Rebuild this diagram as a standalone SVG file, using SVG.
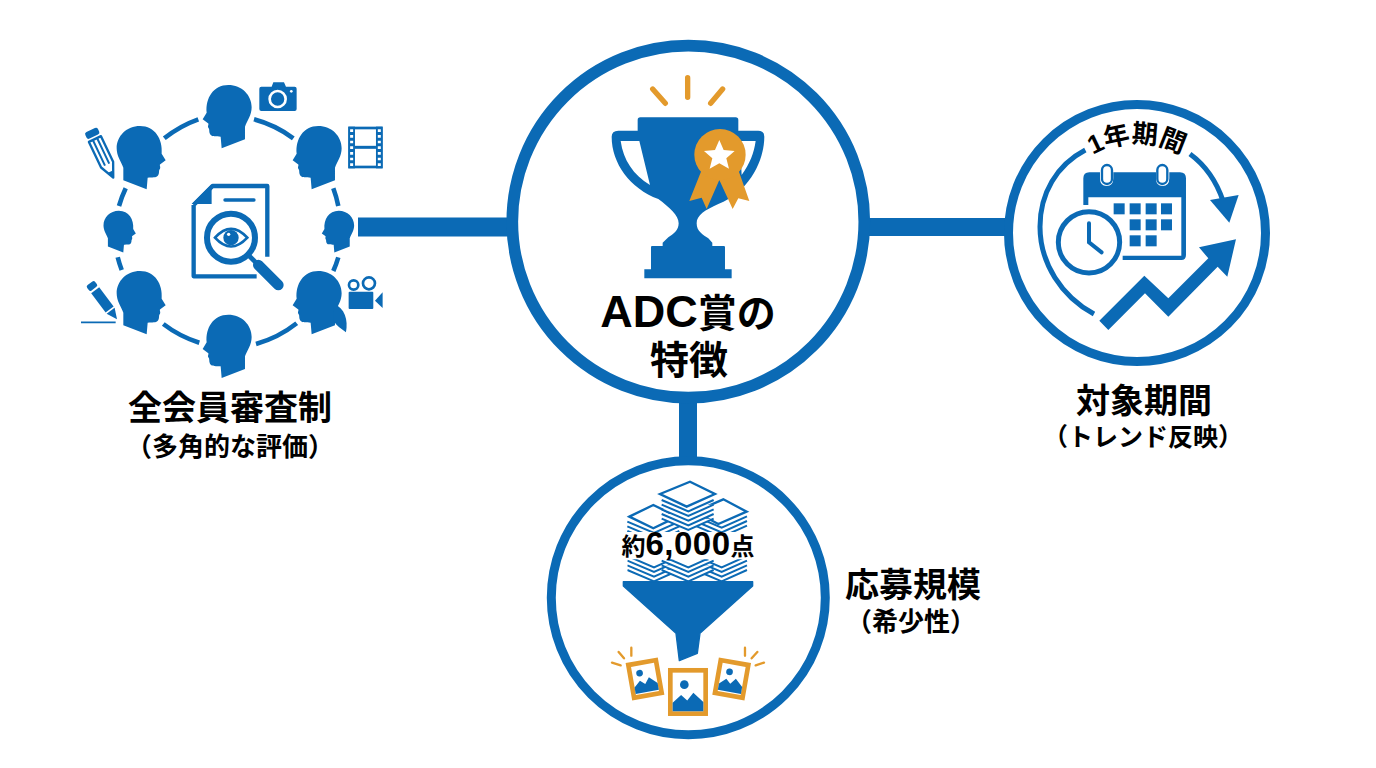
<svg xmlns="http://www.w3.org/2000/svg" xmlns:xlink="http://www.w3.org/1999/xlink" width="1376" height="768" viewBox="0 0 1376 768">
<style>
.b{fill:#0b6ab5}.o{fill:#e39a2c}.w{fill:#fff}
.ls{fill:none;stroke:#0b6ab5}.os{fill:none;stroke:#e39a2c}
.ring{fill:#fff;stroke:#0b6ab5}
.conn{stroke:#0b6ab5;fill:none}
.arc{fill:none;stroke:#0b6ab5;stroke-width:4.6}
.frame{fill:#fff;stroke:#e39a2c;stroke-width:14}
text{font-family:"Liberation Sans","Noto Sans CJK JP",sans-serif;font-weight:700;fill:#000;text-anchor:middle}
.h{font-size:34px}.s{font-size:26px}.t{font-size:39px}
</style>
<defs>
<path id="head" d="M5-95C45-95 75-65 75-28C75-5 62 12 55 30L55 68L-15 95L-18 60C-30 58-45 62-50 52C-54 45-50 38-55 33C-58 28-52 22-56 20L-72 8L-60-12C-64-55-40-95 5-95Z"/>
<path id="chev" d="M-78 0L2 34L78 0" fill="#fff" stroke="#0b6ab5" stroke-width="6"/>
<path id="mtn" d="M-40 30V8L-18-12L-2 2L14-18L40 6V30Z"/>
</defs>
<rect width="1376" height="768" fill="#fff"/>

<g id="connectors">
<path class="conn" stroke-width="19" d="M358 227H512"/>
<path class="conn" stroke-width="18" d="M866 227H1008"/>
<path class="conn" stroke-width="18" d="M688 396V462"/>
</g>

<g id="node-review">
<path class="arc" d="M164.3 138.3A116 116 0 0 1 198.3 119.3M254 119.3A116 116 0 0 1 293.3 138.3M333.3 188.3A116 116 0 0 1 338.3 206M338.3 257.3A116 116 0 0 1 333.3 271M296.7 323.3A116 116 0 0 1 256 344M199.3 342.7A116 116 0 0 1 163.3 324M121.7 270A116 116 0 0 1 117.7 257.3M119 206A116 116 0 0 1 125.7 188.3"/>
<g transform="translate(70 70) scale(.3333)">
<g class="b">
<use xlink:href="#head" transform="translate(470 140)"/>
<use xlink:href="#head" transform="translate(215 263) scale(-1 1)"/>
<use xlink:href="#head" transform="translate(740 263)"/>
<use xlink:href="#head" transform="translate(150 485) scale(-.66 .66)"/>
<use xlink:href="#head" transform="translate(803 485) scale(.66)"/>
<use xlink:href="#head" transform="translate(215 698) scale(-1 1)"/>
<use xlink:href="#head" transform="translate(740 698)"/>
<path d="M790 700C825 715 835 750 828 787C815 775 800 770 790 750Z"/>
<use xlink:href="#head" transform="translate(470 829)"/>
</g>
<!-- document -->
<path class="b" d="M365 402L425 342V402Z"/>
<path class="ls" stroke-width="13" stroke-linejoin="round" d="M371 405L428 348H592V560M560 619H371V405"/>
<path class="ls" stroke-width="10" stroke-linecap="round" d="M465 390H552"/>
<circle cx="483" cy="503" r="72" fill="#fff" stroke="#0b6ab5" stroke-width="18"/>
<path class="ls" stroke-width="14" d="M535 555L560 580"/>
<path class="ls" stroke-width="32" stroke-linecap="round" d="M565 585L625 645"/>
<path class="ls" stroke-width="8" d="M435 503Q483 450 532 503Q483 556 435 503Z"/>
<circle class="b" cx="483" cy="503" r="23"/>
<circle class="w" cx="476" cy="493" r="5"/>
<!-- camera -->
<path class="b" d="M574 50H605L610 37H642L648 50H674Q680 50 680 56V117Q680 123 674 123H574Q568 123 568 117V56Q568 50 574 50Z"/>
<circle class="b" cx="623" cy="87" r="24" stroke="#fff" stroke-width="8"/>
<circle class="b" cx="623" cy="87" r="14"/>
<circle class="w" cx="664" cy="64" r="4"/>
<!-- film -->
<g>
<rect class="ls" x="839" y="174" width="95" height="117" stroke-width="8"/>
<rect class="b" x="835" y="170" width="20" height="125"/>
<rect class="b" x="918" y="170" width="20" height="125"/>
<path stroke="#fff" stroke-width="9" stroke-dasharray="8 9" d="M845 178V292M928 178V292" fill="none"/>
<path class="ls" stroke-width="9" d="M855 232H918"/>
</g>
<!-- upper pencil -->
<g transform="translate(62 180) rotate(-25.4)">
<rect class="b" x="-21" y="0" width="42" height="22" rx="7"/>
<path class="ls" stroke-width="7" stroke-linejoin="round" d="M-20 30H20V115L0 158L-20 115Z"/>
<path class="ls" stroke-width="6" d="M-7 30V115M7 30V115"/>
<path class="b" d="M-8 138H8L0 158Z"/>
</g>
<!-- lower pencil -->
<g transform="translate(60 640) rotate(-36.9)">
<rect class="b" x="-15" y="0" width="30" height="20" rx="6"/>
<path class="b" d="M-15 26H15V98H-15Z"/>
<path class="b" d="M-15 103H15L0 135Z"/>
</g>
<path class="ls" stroke-width="5" d="M33 757H137"/>
<!-- video camera -->
<circle class="ls" cx="851" cy="645" r="14" stroke-width="8"/>
<circle class="ls" cx="897" cy="640" r="18" stroke-width="8"/>
<rect class="b" x="836" y="665" width="74" height="52" rx="3"/>
<path class="b" d="M915 692L938 667V714Z"/>
</g>
</g>

<g id="node-main">
<circle class="ring" cx="688.3" cy="221.7" r="176" stroke-width="11.7"/>
<g transform="translate(590 60) scale(.3333)">
<path class="os" stroke-width="16" stroke-linecap="round" d="M188 87L226 130M293 53V112M398 87L362 130"/>
<path class="b" d="M143 212V180Q143 172 151 172H437Q445 172 445 180V212H505Q523 212 523 230C523 300 480 395 385 432C345 450 320 465 320 490C320 515 340 525 355 535L367 548V558H402Q405 558 405 562V628H425V655H163V628H183V562Q183 558 186 558H218V548L235 532C250 522 266 512 266 490C266 465 238 442 205 417C120 385 65 310 65 230Q65 212 85 212Z"/>
<path class="w" d="M92 243H148L180 375C130 345 100 300 92 243ZM455 345C480 310 492 280 497 243H450Z"/>
<path class="o" d="M335 330L298 423L335 413L350 447L388 360L428 447L445 415L478 423L445 330Z"/>
<circle class="o" cx="390" cy="284" r="77"/>
<path class="w" d="M388 240L401 270L434 273L409 295L417 326L388 310L359 326L367 295L342 273L375 270Z"/>
</g>
<text class="t" x="688" y="327"><tspan font-size="45">ADC</tspan>賞の</text>
<text class="t" x="689" y="374">特徴</text>
</g>

<g id="node-period">
<circle class="ring" cx="1137" cy="233" r="128.5" stroke-width="9"/>
<g transform="translate(1020 110) scale(.3333)">
<path class="ls" stroke-width="15" d="M196 120C110 165 60 250 60 350C60 460 125 560 222 612"/>
<path class="ls" stroke-width="15" d="M510 132C555 165 590 215 610 275"/>
<path class="b" d="M570 270L656 255L628 338Z"/>
<path class="b" d="M190 285V205Q190 187 208 187H240V205Q240 228 260 228Q280 228 280 205V187H408V205Q408 228 428 228Q448 228 448 205V187H480Q498 187 498 205V435Q498 450 484 450H308V437H484V262H205V285Z"/>
<rect x="246" y="165" width="30" height="57" rx="15" fill="#fff" stroke="#0b6ab5" stroke-width="7"/>
<rect x="412" y="165" width="30" height="57" rx="15" fill="#fff" stroke="#0b6ab5" stroke-width="7"/>
<g class="b">
<rect x="281" y="280" width="33" height="33"/><rect x="329" y="280" width="33" height="33"/><rect x="377" y="280" width="33" height="33"/><rect x="423" y="280" width="33" height="33"/>
<rect x="329" y="328" width="33" height="33"/><rect x="377" y="328" width="33" height="33"/><rect x="423" y="328" width="33" height="33"/>
<rect x="329" y="376" width="33" height="33"/><rect x="377" y="376" width="33" height="33"/>
</g>
<circle cx="207" cy="397" r="92" fill="#fff" stroke="#0b6ab5" stroke-width="15"/>
<path class="ls" stroke-width="12" stroke-linecap="round" d="M207 340V397L245 427"/>
<path class="b" d="M238 632L373 497L445 565L565 445L537 412L648 388L622 500L593 470L445 620L375 550L265 660Z"/>
</g>
<path id="yearArc" d="M1066 179A88 88 0 0 1 1208 179" fill="none"/>
<text font-size="26"><textPath xlink:href="#yearArc" startOffset="50%">1年期間</textPath></text>
</g>

<g id="node-scale">
<circle class="ring" cx="688.3" cy="597.7" r="137" stroke-width="9"/>
<g transform="translate(590 470) scale(.3333)">
<use xlink:href="#chev" x="190" y="183"/><use xlink:href="#chev" x="190" y="169"/><use xlink:href="#chev" x="190" y="155"/>
<path fill="#fff" stroke="#0b6ab5" stroke-width="7" d="M118 140L190 105L262 140L190 175Z"/>
<use xlink:href="#chev" x="393" y="167"/><use xlink:href="#chev" x="393" y="153"/><use xlink:href="#chev" x="393" y="139"/>
<path fill="#fff" stroke="#0b6ab5" stroke-width="7" d="M315 125L400 88L470 125L385 162Z"/>
<use xlink:href="#chev" x="293" y="146"/><use xlink:href="#chev" x="293" y="132"/><use xlink:href="#chev" x="293" y="118"/><use xlink:href="#chev" x="293" y="104"/><use xlink:href="#chev" x="293" y="90"/>
<path fill="#fff" stroke="#0b6ab5" stroke-width="7" d="M210 72L300 35L375 72L290 110Z"/>
<rect class="w" x="70" y="186" width="450" height="82"/>
<clipPath id="lowerClip"><rect x="112" y="268" width="362" height="66"/></clipPath>
<g clip-path="url(#lowerClip)">
<use xlink:href="#chev" x="190" y="300"/><use xlink:href="#chev" x="190" y="286"/><use xlink:href="#chev" x="190" y="272"/><use xlink:href="#chev" x="190" y="258"/>
<use xlink:href="#chev" x="393" y="300"/><use xlink:href="#chev" x="393" y="286"/><use xlink:href="#chev" x="393" y="272"/><use xlink:href="#chev" x="393" y="258"/>
<use xlink:href="#chev" x="293" y="300"/><use xlink:href="#chev" x="293" y="286"/><use xlink:href="#chev" x="293" y="272"/><use xlink:href="#chev" x="293" y="258"/>
</g>
<path class="b" stroke="#0b6ab5" stroke-width="4" stroke-linejoin="round" d="M100 335H488V348L330 490L322 550L268 572L258 490L100 348Z"/>
<path class="os" stroke-width="7" stroke-linecap="round" d="M66 578L92 586M86 546L102 565M124 533V557M465 533V557M502 546L485 565M522 578L497 586"/>
<g transform="translate(165 627) rotate(-10)">
<rect class="frame" x="-42" y="-50" width="84" height="100"/>
<circle class="b" cx="-13" cy="-20" r="10"/>
<use xlink:href="#mtn" class="b" transform="translate(0 13) scale(.88)"/>
</g>
<g transform="translate(425 627) rotate(10)">
<rect class="frame" x="-42" y="-50" width="84" height="100"/>
<circle class="b" cx="-10" cy="-20" r="10"/>
<use xlink:href="#mtn" class="b" transform="translate(0 13) scale(.88)"/>
</g>
<rect class="frame" x="241" y="601" width="106" height="130"/>
<circle class="b" cx="283" cy="644" r="13"/>
<use xlink:href="#mtn" class="b" transform="translate(294 689) scale(1.15)"/>
</g>
<text y="555" x="688"><tspan font-size="24">約</tspan><tspan font-size="33" letter-spacing=".5">6,000</tspan><tspan font-size="24">点</tspan></text>
</g>

<g id="labels">
<text class="h" x="230" y="420">全会員審査制</text>
<text class="s" x="230" y="456">（多角的な評価）</text>
<text class="h" x="1144" y="413">対象期間</text>
<text class="s" x="1143" y="446" style="font-size:25px">（トレンド反映）</text>
<text class="h" x="913" y="597">応募規模</text>
<text class="s" x="911" y="631">（希少性）</text>
</g>
</svg>
